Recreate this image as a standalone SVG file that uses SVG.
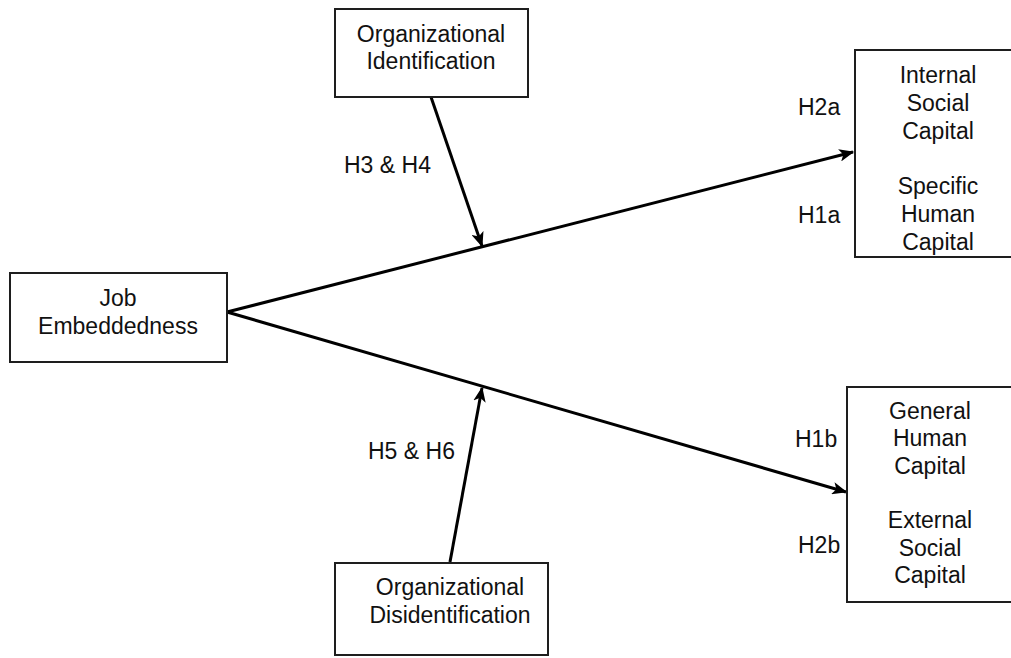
<svg xmlns="http://www.w3.org/2000/svg" width="1011" height="658" viewBox="0 0 1011 658">
<style>
.box{fill:#fff;stroke:#1e1e1e;stroke-width:2}
.t{font-family:"Liberation Sans",Arial,sans-serif;font-size:23px;fill:#111;text-anchor:middle}
.l{font-family:"Liberation Sans",Arial,sans-serif;font-size:23px;fill:#111}
.c{stroke:#000;stroke-width:3;fill:none;marker-end:url(#ah)}
</style>
<defs>
<marker id="ah" viewBox="0 0 12 10" refX="11" refY="5" markerWidth="5" markerHeight="4.2" orient="auto" markerUnits="strokeWidth">
<path d="M0,0 L12,5 L0,10 L3,5 z" fill="#000"/>
</marker>
</defs>
<rect width="1011" height="658" fill="#fff"/>
<g id="connectors">
<path class="c" d="M227,312 L853,152"/>
<path class="c" d="M227,312 L846,492"/>
<path class="c" d="M431,97 L482,246"/>
<path class="c" d="M450,562 L482,388"/>
</g>
<g id="job">
<rect class="box" x="10" y="273" width="217" height="89"/>
<text class="t" x="118" y="306">Job</text>
<text class="t" x="118" y="334">Embeddedness</text>
</g>
<g id="orgid">
<rect class="box" x="335" y="9" width="193" height="88"/>
<text class="t" x="431" y="42">Organizational</text>
<text class="t" x="431" y="69">Identification</text>
</g>
<g id="orgdisid">
<rect class="box" x="335" y="563" width="213" height="92"/>
<text class="t" x="450" y="595">Organizational</text>
<text class="t" x="450" y="623">Disidentification</text>
</g>
<g id="outcome-top">
<rect class="box" x="855" y="50" width="170" height="207"/>
<text class="t" x="938" y="83">Internal</text>
<text class="t" x="938" y="111">Social</text>
<text class="t" x="938" y="139">Capital</text>
<text class="t" x="938" y="194">Specific</text>
<text class="t" x="938" y="222">Human</text>
<text class="t" x="938" y="250">Capital</text>
</g>
<g id="outcome-bottom">
<rect class="box" x="847" y="387" width="175" height="215"/>
<text class="t" x="930" y="419">General</text>
<text class="t" x="930" y="446">Human</text>
<text class="t" x="930" y="474">Capital</text>
<text class="t" x="930" y="528">External</text>
<text class="t" x="930" y="556">Social</text>
<text class="t" x="930" y="583">Capital</text>
</g>
<g id="labels">
<text class="l" x="798" y="115">H2a</text>
<text class="l" x="798" y="223">H1a</text>
<text class="l" x="795" y="447">H1b</text>
<text class="l" x="798" y="553">H2b</text>
<text class="l" x="344" y="173">H3 &amp; H4</text>
<text class="l" x="368" y="459">H5 &amp; H6</text>
</g>
</svg>
